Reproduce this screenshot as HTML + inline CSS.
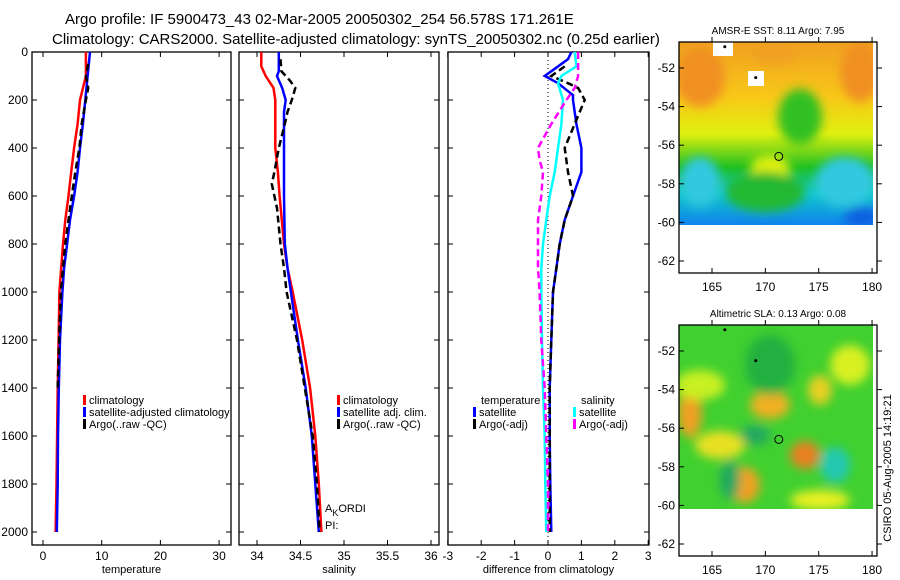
<!DOCTYPE html>
<html><head><meta charset="utf-8"><style>
body{margin:0;background:#fff;width:900px;height:580px;overflow:hidden}
svg{display:block;font-family:"Liberation Sans",sans-serif}
</style></head><body>
<svg id="c" width="900" height="580">
<defs>
<linearGradient id="sstg" x1="0" y1="0" x2="0" y2="1">
<stop offset="0" stop-color="#f0a020"/><stop offset="0.3" stop-color="#f8c818"/><stop offset="0.5" stop-color="#e0f010"/><stop offset="0.68" stop-color="#20c020"/><stop offset="0.82" stop-color="#10c8c8"/><stop offset="1" stop-color="#1080f0"/></linearGradient>
<filter id="bl"><feGaussianBlur stdDeviation="5"/></filter>
<clipPath id="m1"><rect x="679" y="42" width="194" height="183"/></clipPath>
<clipPath id="m2"><rect x="679" y="325" width="194" height="184"/></clipPath>
</defs>
<text x="65" y="24" font-size="15">Argo profile: IF 5900473_43 02-Mar-2005 20050302_254 56.578S 171.261E</text>
<text x="52" y="44" font-size="15">Climatology: CARS2000. Satellite-adjusted climatology: synTS_20050302.nc (0.25d earlier)</text>
<g id="maps"></g>
<g id="plots"></g>
</svg>
<script>
const depths=[0,100,200,300,400,500,600,700,800,900,1000,1200,1400,1600,1800,2000];
const tempClim=[7.3,7.3,6.3,5.9,5.3,4.8,4.35,3.8,3.4,3.1,2.8,2.65,2.5,2.4,2.3,2.15];
const tempSat=[8.0,7.6,7.2,6.8,6.3,5.9,5.3,4.6,4.1,3.6,3.3,2.9,2.7,2.55,2.5,2.35];
const argoDepths=[50,100,150,200,300,400,500,600,700,800,900,1000,1200,1400];
const tempArgo=[7.7,7.3,7.7,7.3,6.6,6.2,5.5,4.9,4.35,3.8,3.4,3.05,2.75,2.5];
const salDepths=[0,60,100,150,200,400,500,600,800,900,1000,1200,1400,1600,1800,2000];
const salClim=[34.05,34.05,34.1,34.19,34.21,34.21,34.24,34.26,34.31,34.35,34.41,34.52,34.61,34.67,34.71,34.74];
const salSatDepths=[0,80,100,150,200,250,400,600,800,900,1000,1200,1400,1600,1800,2000];
const salSat=[34.25,34.25,34.23,34.29,34.33,34.31,34.31,34.31,34.32,34.35,34.39,34.47,34.56,34.63,34.67,34.71];
const salArgoDepths=[30,80,120,150,200,250,300,400,500,550,600,650,800,900,1000,1100,1200,1400,1600,1800,2000];
const salArgo=[34.27,34.28,34.38,34.44,34.40,34.35,34.32,34.25,34.20,34.17,34.20,34.23,34.27,34.31,34.34,34.40,34.46,34.55,34.64,34.69,34.72];
const dTDepths=[0,30,70,100,130,180,200,300,400,500,600,700,800,900,1000,1200,1400,1600,1800,2000];
const dTSat=[0.7,0.6,0.2,-0.1,0.3,0.75,0.75,0.85,1.0,1.0,0.75,0.5,0.35,0.25,0.15,0.1,0.05,0.05,0.07,0.1];
const dTArgoDepths=[60,100,130,150,200,250,300,400,500,600,700,800,900,1000,1200,1400,1600,2000];
const dTArgo=[0.5,0.1,0.6,0.9,1.1,0.95,0.8,0.5,0.6,0.75,0.5,0.35,0.25,0.15,0.1,0.05,0.05,0.05];
const dSDepths=[0,60,100,130,200,300,400,500,600,700,800,900,1000,1200,1400,1600,1800,2000];
const dSSat=[0.8,0.85,0.4,0.3,0.45,0.4,0.3,0.2,0.05,-0.05,-0.15,-0.2,-0.2,-0.18,-0.15,-0.1,-0.08,-0.05];
const dSArgoDepths=[0,50,100,150,200,300,400,450,500,600,700,800,900,1000,1200,1400,1600,1800,2000];
const dSArgo=[0.9,0.9,0.9,0.8,0.55,0.1,-0.3,-0.25,-0.15,-0.2,-0.3,-0.3,-0.3,-0.25,-0.2,-0.1,-0.05,0,0];
const depthTicks=[0,200,400,600,800,1000,1200,1400,1600,1800,2000];
const tempTicks=[0,10,20,30];
const salTicks=[34,34.5,35,35.5,36];
const diffTicks=[-3,-2,-1,0,1,2,3];
const lonTicks=[165,170,175,180];
const latTicks=[-52,-54,-56,-58,-60,-62];

const NS='http://www.w3.org/2000/svg';
const plots=document.getElementById('plots'), maps=document.getElementById('maps');
function mk(tag,attrs,parent,txt){const e=document.createElementNS(NS,tag);for(const k in attrs)e.setAttribute(k,attrs[k]);if(txt!==undefined)e.textContent=txt;(parent||plots).appendChild(e);return e;}
const yD=d=>52+d*0.24;
const B=545;
function panel(name,x0,x1,xf,ticks,tickFmt,xlabel,showY){
  const g=mk('g',{},plots);
  
  
  const r=mk('rect',{x:x0,y:52,width:x1-x0,height:B-52,fill:'none',stroke:'#000','stroke-width':1.3},g);
  
  
  ticks.forEach(t=>{const x=xf(t);
    mk('line',{x1:x,x2:x,y1:52,y2:57,stroke:'#000'},g);mk('line',{x1:x,x2:x,y1:B,y2:B-5,stroke:'#000'},g);
    const tl=mk('text',{x:x,y:560,'font-size':12,'text-anchor':'middle'},g,tickFmt(t));
    
    });
  depthTicks.forEach(d=>{const y=yD(d);
    mk('line',{x1:x0,x2:x0+5,y1:y,y2:y,stroke:'#000'},g);mk('line',{x1:x1,x2:x1-5,y1:y,y2:y,stroke:'#000'},g);
    if(showY){const tl=mk('text',{x:x0-4,y:y+4,'font-size':12,'text-anchor':'end'},g,d);
      
      }});
  const xl=mk('text',{x:(x0+x1)/2,y:573,'font-size':11,'text-anchor':'middle'},g,xlabel);
  
  
  return g;
}
function line(g,xs,ds,xf,color,w,dash,name){
  const p=xs.map((v,i)=>xf(v).toFixed(1)+','+yD(ds[i]).toFixed(1)).join(' ');
  const e=mk('polyline',{points:p,fill:'none',stroke:color,'stroke-width':w,'stroke-dasharray':dash||'none'},g);
  
  
}
function leg(g,x,y,color,label,dash,name){
  mk('rect',{x:x,y:y-9,width:3,height:10,fill:color},g);
  const t=mk('text',{x:x+6,y:y,'font-size':11},g,label);
  
  
}
// Temperature
const xT=t=>43+t*5.87;
const g1=panel('temperature-panel',32,231,xT,tempTicks,t=>t,'temperature',true);
line(g1,tempClim,depths,xT,'#f00',2.5,null,'temp-climatology-line');
line(g1,tempSat,depths,xT,'#00f',2.5,null,'temp-satellite-line');
line(g1,tempArgo,argoDepths,xT,'#000',2.5,'7,4','temp-argo-line');
leg(g1,83,404,'#f00','climatology',0,'legend-climatology');
leg(g1,83,416,'#00f','satellite-adjusted climatology',0,'legend-satellite');
leg(g1,83,428,'#000','Argo(..raw -QC)',0,'legend-argo');
// Salinity
const xS=s=>257+(s-34)*87;
const g2=panel('salinity-panel',239,439,xS,salTicks,t=>t,'salinity',false);
line(g2,salClim,salDepths,xS,'#f00',2.5,null,'sal-climatology-line');
line(g2,salSat,salSatDepths,xS,'#00f',2.5,null,'sal-satellite-line');
line(g2,salArgo,salArgoDepths,xS,'#000',2.5,'7,4','sal-argo-line');
leg(g2,337,404,'#f00','climatology',0,'legend-sal-climatology');
leg(g2,337,416,'#00f','satellite adj. clim.',0,'legend-sal-satellite');
leg(g2,337,428,'#000','Argo(..raw -QC)',0,'legend-sal-argo');
const ak=mk('text',{x:325,y:512,'font-size':11},g2,'A');
mk('tspan',{dy:4,'font-size':9},ak,'K');mk('tspan',{dy:-4},ak,'ORDI');
const pi=mk('text',{x:325,y:529,'font-size':11},g2,'PI:');
// Diff
const xDf=v=>548+v*33.4;
const g3=panel('difference-panel',448,649,xDf,diffTicks,t=>t,'difference from climatology',false);
mk('line',{x1:xDf(0),x2:xDf(0),y1:52,y2:B,stroke:'#000','stroke-dasharray':'1,3'},g3);
line(g3,dTSat,dTDepths,xDf,'#00f',2.5,null,'diff-temp-satellite-line');
line(g3,dTArgo,dTArgoDepths,xDf,'#000',2.5,'7,4','diff-temp-argo-line');
line(g3,dSSat,dSDepths,xDf,'#0ff',2.5,null,'diff-sal-satellite-line');
line(g3,dSArgo,dSArgoDepths,xDf,'#f0f',2.5,'7,4','diff-sal-argo-line');
const lt=mk('text',{x:481,y:404,'font-size':11},g3,'temperature');
leg(g3,473,416,'#00f','satellite',0,'legend-diff-temp-sat');
leg(g3,473,428,'#000','Argo(-adj)',0,'legend-diff-temp-argo');
const ls=mk('text',{x:581,y:404,'font-size':11},g3,'salinity');
leg(g3,573,416,'#0ff','satellite',0,'legend-diff-sal-sat');
leg(g3,573,428,'#f0f','Argo(-adj)',0,'legend-diff-sal-argo');
// Maps
const xL=l=>712+(l-165)*10.67;
function map(name,top,title,clip,kind){
  const g=mk('g',{},maps);
  
  
  const yL=la=>top+26+(-52-la)*19.3;
  const ig=mk('g',{'clip-path':'url(#'+clip+')'},g);
  if(kind==1){
    mk('rect',{x:679,y:top,width:194,height:184,fill:'url(#sstg)'},ig);
    const b=mk('g',{filter:'url(#bl)'},ig);
    mk('ellipse',{cx:700,cy:top+35,rx:25,ry:30,fill:'#f09020'},b);
    mk('ellipse',{cx:860,cy:top+30,rx:20,ry:30,fill:'#f09020'},b);
    mk('ellipse',{cx:775,cy:top+10,rx:25,ry:12,fill:'#f0a020'},b);
    mk('ellipse',{cx:800,cy:top+75,rx:22,ry:28,fill:'#30c020'},b);
    mk('ellipse',{cx:770,cy:top+128,rx:20,ry:15,fill:'#e0f010'},b);
    mk('ellipse',{cx:765,cy:top+150,rx:40,ry:20,fill:'#20b830'},b);
    mk('ellipse',{cx:700,cy:top+140,rx:20,ry:25,fill:'#30c8e0'},b);
    mk('ellipse',{cx:845,cy:top+140,rx:30,ry:25,fill:'#30c8e0'},b);
    mk('ellipse',{cx:862,cy:top+175,rx:18,ry:10,fill:'#1060e0'},b);
    mk('rect',{x:713,y:top,width:20,height:14,fill:'#fff'},ig);
    mk('rect',{x:748,y:top+29,width:16,height:15,fill:'#fff'},ig);
  } else {
    mk('rect',{x:679,y:top,width:194,height:184,fill:'#40d030'},ig);
    const b=mk('g',{filter:'url(#bl)'},ig);
    [[690,top+88,12,25,'#f0a020'],[770,top+80,20,14,'#f0b020'],[805,top+130,15,14,'#e88020'],[745,top+160,15,18,'#f0a020'],[820,top+65,12,15,'#e8d020'],[720,top+120,25,14,'#e8e020'],[820,top+175,30,10,'#e8f020'],[850,top+40,20,20,'#d8f020'],[700,top+60,25,15,'#c8f020']].forEach(a=>mk('ellipse',{cx:a[0],cy:a[1],rx:a[2],ry:a[3],fill:a[4]},b));
    [[835,top+140,15,18,'#20c8b0'],[755,top+110,15,10,'#20a860'],[770,top+40,25,30,'#20b040'],[730,top+155,10,20,'#20a860']].forEach(a=>mk('ellipse',{cx:a[0],cy:a[1],rx:a[2],ry:a[3],fill:a[4]},b));
  }
  mk('rect',{x:679,y:top,width:198,height:231,fill:'none',stroke:'#000','stroke-width':1.3},g);
  lonTicks.forEach(l=>{const x=xL(l);mk('line',{x1:x,x2:x,y1:top,y2:top-5,stroke:'#000'},g);mk('line',{x1:x,x2:x,y1:top+231,y2:top+226,stroke:'#000'},g);
    const t=mk('text',{x:x,y:top+249,'font-size':12,'text-anchor':'middle'},g,l);});
  latTicks.forEach(la=>{const y=yL(la);mk('line',{x1:877,x2:882,y1:y,y2:y,stroke:'#000'},g);mk('line',{x1:679,x2:684,y1:y,y2:y,stroke:'#000'},g);
    const t=mk('text',{x:675,y:y+4,'font-size':12,'text-anchor':'end'},g,la);});
  mk('circle',{cx:xL(171.26),cy:yL(-56.58),r:4,fill:'none',stroke:'#000'},g);
  mk('circle',{cx:xL(166.2),cy:yL(-50.9),r:1.5,fill:'#000'},g);
  mk('circle',{cx:xL(169.1),cy:yL(-52.5),r:1.5,fill:'#000'},g);
  const tt=mk('text',{x:778,y:top-8,'font-size':10,'text-anchor':'middle'},g,title);
  
  
}
map('sst-map',42,'AMSR-E SST: 8.11 Argo: 7.95','m1',1);
map('sla-map',325,'Altimetric SLA: 0.13 Argo: 0.08','m2',2);
const st=mk('text',{x:0,y:0,'font-size':11,'text-anchor':'middle',transform:'translate(891,468) rotate(-90)'},maps,'CSIRO 05-Aug-2005 14:19:21');


</script>
</body></html>
